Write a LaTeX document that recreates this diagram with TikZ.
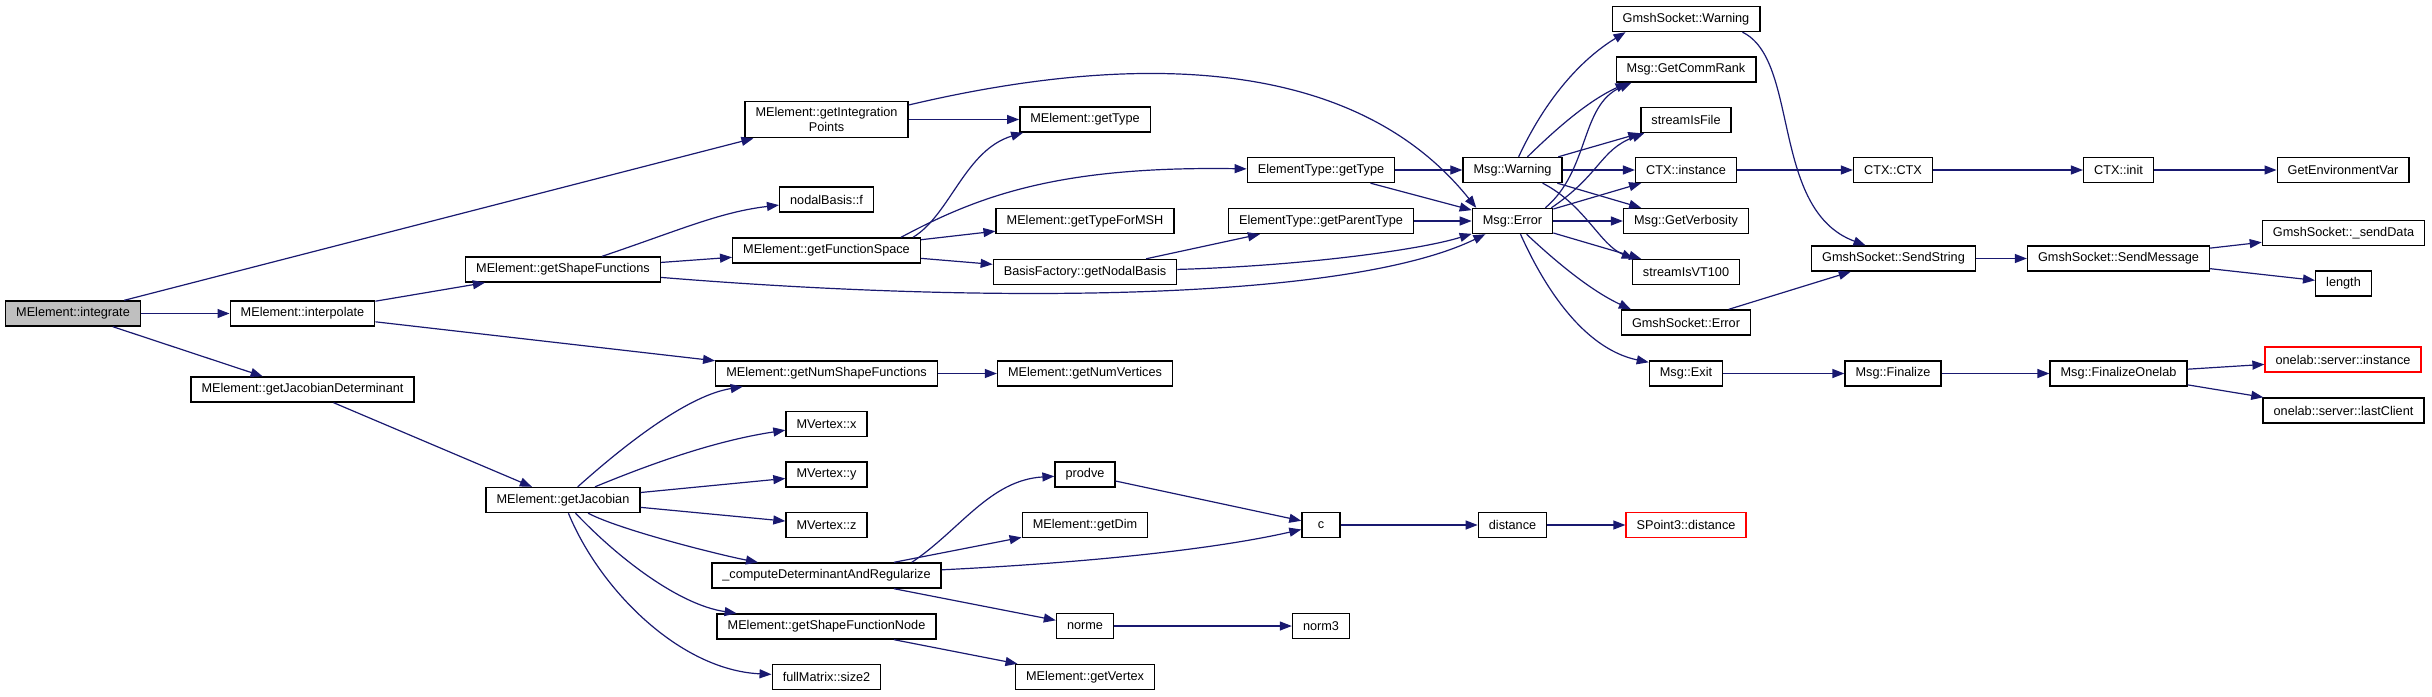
\documentclass[tikz,border=0pt]{standalone}
\usepackage{fontspec}
\setmainfont{Liberation Sans}
\usetikzlibrary{arrows.meta}

\definecolor{navy}{RGB}{25,25,112}
\definecolor{boxgray}{RGB}{191,191,191}

\begin{document}
\begin{tikzpicture}[
    x=1pt, y=-1pt,
    box/.style={
        rectangle,
        draw,
        line width=1.4pt,
        minimum height=25pt,
        minimum width=38pt,
        inner xsep=10.5pt,
        inner ysep=2pt,
        font=\fontsize{12.7}{15}\selectfont,
        align=center
    },
    root/.style={box, fill=boxgray},
    missing/.style={box, draw=red},
    arr/.style={draw=navy, line width=1.2pt, -{Triangle[length=12pt,width=9pt]}}
]
\useasboundingbox (0,0) rectangle (2432,696);

\node[root] (integrate) at (73,313.5) {MElement::integrate};
\node[box] (interp) at (302.5,313.5) {MElement::interpolate};
\node[box] (jacdet) at (302.5,389.5) {MElement::getJacobianDeterminant};

\node[box, inner ysep=6pt] (intpts) at (826.5,119.5) {MElement::getIntegration\\Points};
\node[box] (nodalf) at (826.5,199.5) {nodalBasis::f};
\node[box] (shapefn) at (563,269.5) {MElement::getShapeFunctions};
\node[box] (funcspace) at (826.5,250.5) {MElement::getFunctionSpace};
\node[box] (numshape) at (826.5,373.5) {MElement::getNumShapeFunctions};
\node[box] (jac) at (563,500) {MElement::getJacobian};
\node[box] (vx) at (826.5,424) {MVertex::x};
\node[box] (vy) at (826.5,474.5) {MVertex::y};
\node[box] (vz) at (826.5,525) {MVertex::z};
\node[box] (detreg) at (826.5,575.5) {\_computeDeterminantAndRegularize};
\node[box] (shapenode) at (826.5,626.5) {MElement::getShapeFunctionNode};
\node[box] (size2) at (826.5,677) {fullMatrix::size2};

\node[box] (gettype) at (1085,119.5) {MElement::getType};
\node[box] (typemsh) at (1085,221) {MElement::getTypeForMSH};
\node[box] (nodalbasis) at (1085,272) {BasisFactory::getNodalBasis};
\node[box] (numvert) at (1085,373.5) {MElement::getNumVertices};
\node[box] (prodve) at (1085,474.5) {prodve};
\node[box] (getdim) at (1085,525) {MElement::getDim};
\node[box] (norme) at (1085,626) {norme};
\node[box] (getvertex) at (1085,677) {MElement::getVertex};

\node[box] (ettype) at (1321,170) {ElementType::getType};
\node[box] (parenttype) at (1321,221) {ElementType::getParentType};
\node[box] (cfn) at (1321,525) {c};
\node[box] (norm3) at (1321,626) {norm3};

\node[box] (warn) at (1512.5,170) {Msg::Warning};
\node[box] (err) at (1512.5,221) {Msg::Error};
\node[box] (dist) at (1512.5,525) {distance};

\node[box] (sockwarn) at (1686,19) {GmshSocket::Warning};
\node[box] (commrank) at (1686,69.5) {Msg::GetCommRank};
\node[box] (isfile) at (1686,120) {streamIsFile};
\node[box] (ctxinst) at (1686,170) {CTX::instance};
\node[box] (verbosity) at (1686,221) {Msg::GetVerbosity};
\node[box] (isvt) at (1686,272) {streamIsVT100};
\node[box] (sockerr) at (1686,322.5) {GmshSocket::Error};
\node[box] (exit) at (1686,373.5) {Msg::Exit};
\node[missing] (spdist) at (1686,525) {SPoint3::distance};

\node[box] (ctx) at (1893,170) {CTX::CTX};
\node[box] (sendstr) at (1893.5,258.5) {GmshSocket::SendString};
\node[box] (finalize) at (1893,373.5) {Msg::Finalize};
\node[box] (ctxinit) at (2118.5,170) {CTX::init};
\node[box] (sendmsg) at (2118.5,258.5) {GmshSocket::SendMessage};
\node[box] (finonelab) at (2118.5,373.5) {Msg::FinalizeOnelab};
\node[box] (getenv) at (2343,170) {GetEnvironmentVar};
\node[box] (senddata) at (2343.5,233) {GmshSocket::\_sendData};
\node[box] (length) at (2343.5,283.5) {length};
\node[missing] (srvinst) at (2343,359.5) {onelab::server::instance};
\node[box] (lastclient) at (2343.5,410.5) {onelab::server::lastClient};

% straight calls
\draw[arr] (integrate) -- (intpts);
\draw[arr] (integrate) -- (interp);
\draw[arr] (integrate) -- (jacdet);
\draw[arr] (interp) -- (shapefn);
\draw[arr] (interp) -- (numshape);
\draw[arr] (jacdet) -- (jac);
\draw[arr] (intpts) -- (gettype);
\draw[arr] (shapefn) -- (funcspace);
\draw[arr] (funcspace) -- (typemsh);
\draw[arr] (funcspace) -- (nodalbasis);
\draw[arr] (numshape) -- (numvert);
\draw[arr] (jac) -- (vy);
\draw[arr] (jac) -- (vz);
\draw[arr] (detreg) -- (getdim);
\draw[arr] (detreg) -- (norme);
\draw[arr] (shapenode) -- (getvertex);
\draw[arr] (nodalbasis) -- (parenttype);
\draw[arr] (ettype) -- (warn);
\draw[arr] (ettype) -- (err);
\draw[arr] (parenttype) -- (err);
\draw[arr] (prodve) -- (cfn);
\draw[arr] (cfn) -- (dist);
\draw[arr] (dist) -- (spdist);
\draw[arr] (norme) -- (norm3);
\draw[arr] (warn) -- (isfile);
\draw[arr] (warn) -- (ctxinst);
\draw[arr] (warn) -- (verbosity);
\draw[arr] (err) -- (ctxinst);
\draw[arr] (err) -- (verbosity);
\draw[arr] (err) -- (isvt);
\draw[arr] (ctxinst) -- (ctx);
\draw[arr] (ctx) -- (ctxinit);
\draw[arr] (ctxinit) -- (getenv);
\draw[arr] (sockerr) -- (sendstr);
\draw[arr] (sendstr) -- (sendmsg);
\draw[arr] (sendmsg) -- (senddata);
\draw[arr] (sendmsg) -- (length);
\draw[arr] (exit) -- (finalize);
\draw[arr] (finalize) -- (finonelab);
\draw[arr] (finonelab) -- (srvinst);
\draw[arr] (finonelab) -- (lastclient);

% curved calls
\draw[arr] (intpts.10) .. controls (1120,55) and (1350,50) .. (err.160);
\draw[arr] (shapefn) .. controls (1000,305) and (1350,300) .. (err);
\draw[arr] (nodalbasis) .. controls (1300,266) and (1420,250) .. (err);
\draw[arr] ([xshift=-8pt]funcspace.north east) .. controls (950,215) and (965,150) .. ([xshift=4pt]gettype.south west);
\draw[arr] ([xshift=-20pt]funcspace.north east) .. controls (980,195) and (1060,166) .. (ettype);
\draw[arr] (shapefn) .. controls (680,230) and (720,212) .. (nodalf);
\draw[arr] (jac) .. controls (630,440) and (690,395) .. (numshape);
\draw[arr] (jac) .. controls (660,460) and (720,440) .. (vx);
\draw[arr] (jac) .. controls (620,530) and (720,555) .. (detreg);
\draw[arr] (jac) .. controls (620,560) and (680,605) .. (shapenode);
\draw[arr] (jac) .. controls (600,590) and (680,670) .. (size2);
\draw[arr] ([xshift=-30pt]detreg.north east) .. controls (960,530) and (990,480) .. (prodve);
\draw[arr] (detreg) .. controls (1100,562) and (1220,548) .. (cfn);
\draw[arr] (warn) .. controls (1545,100) and (1580,60) .. ([xshift=14pt]sockwarn.south west);
\draw[arr] ([xshift=15pt]warn.north) .. controls (1560,125) and (1590,100) .. ([xshift=12pt]commrank.south west);
\draw[arr] ([xshift=-20pt]warn.south east) .. controls (1585,205) and (1600,245) .. ([xshift=2pt]isvt.north west);
\draw[arr] ([xshift=-8pt]err.north east) .. controls (1590,170) and (1580,105) .. ([xshift=16pt]commrank.south west);
\draw[arr] ([xshift=-2pt]err.north east) .. controls (1600,175) and (1600,150) .. ([xshift=4pt]isfile.south west);
\draw[arr] (err) .. controls (1570,275) and (1600,295) .. ([xshift=10pt]sockerr.north west);
\draw[arr] ([xshift=8pt]err.south) .. controls (1550,300) and (1590,350) .. ([yshift=-2pt]exit.north west);
\draw[arr] ([xshift=-18pt]sockwarn.south east) .. controls (1800,60) and (1770,210) .. ([xshift=-28pt]sendstr.north);

\end{tikzpicture}
\end{document}
